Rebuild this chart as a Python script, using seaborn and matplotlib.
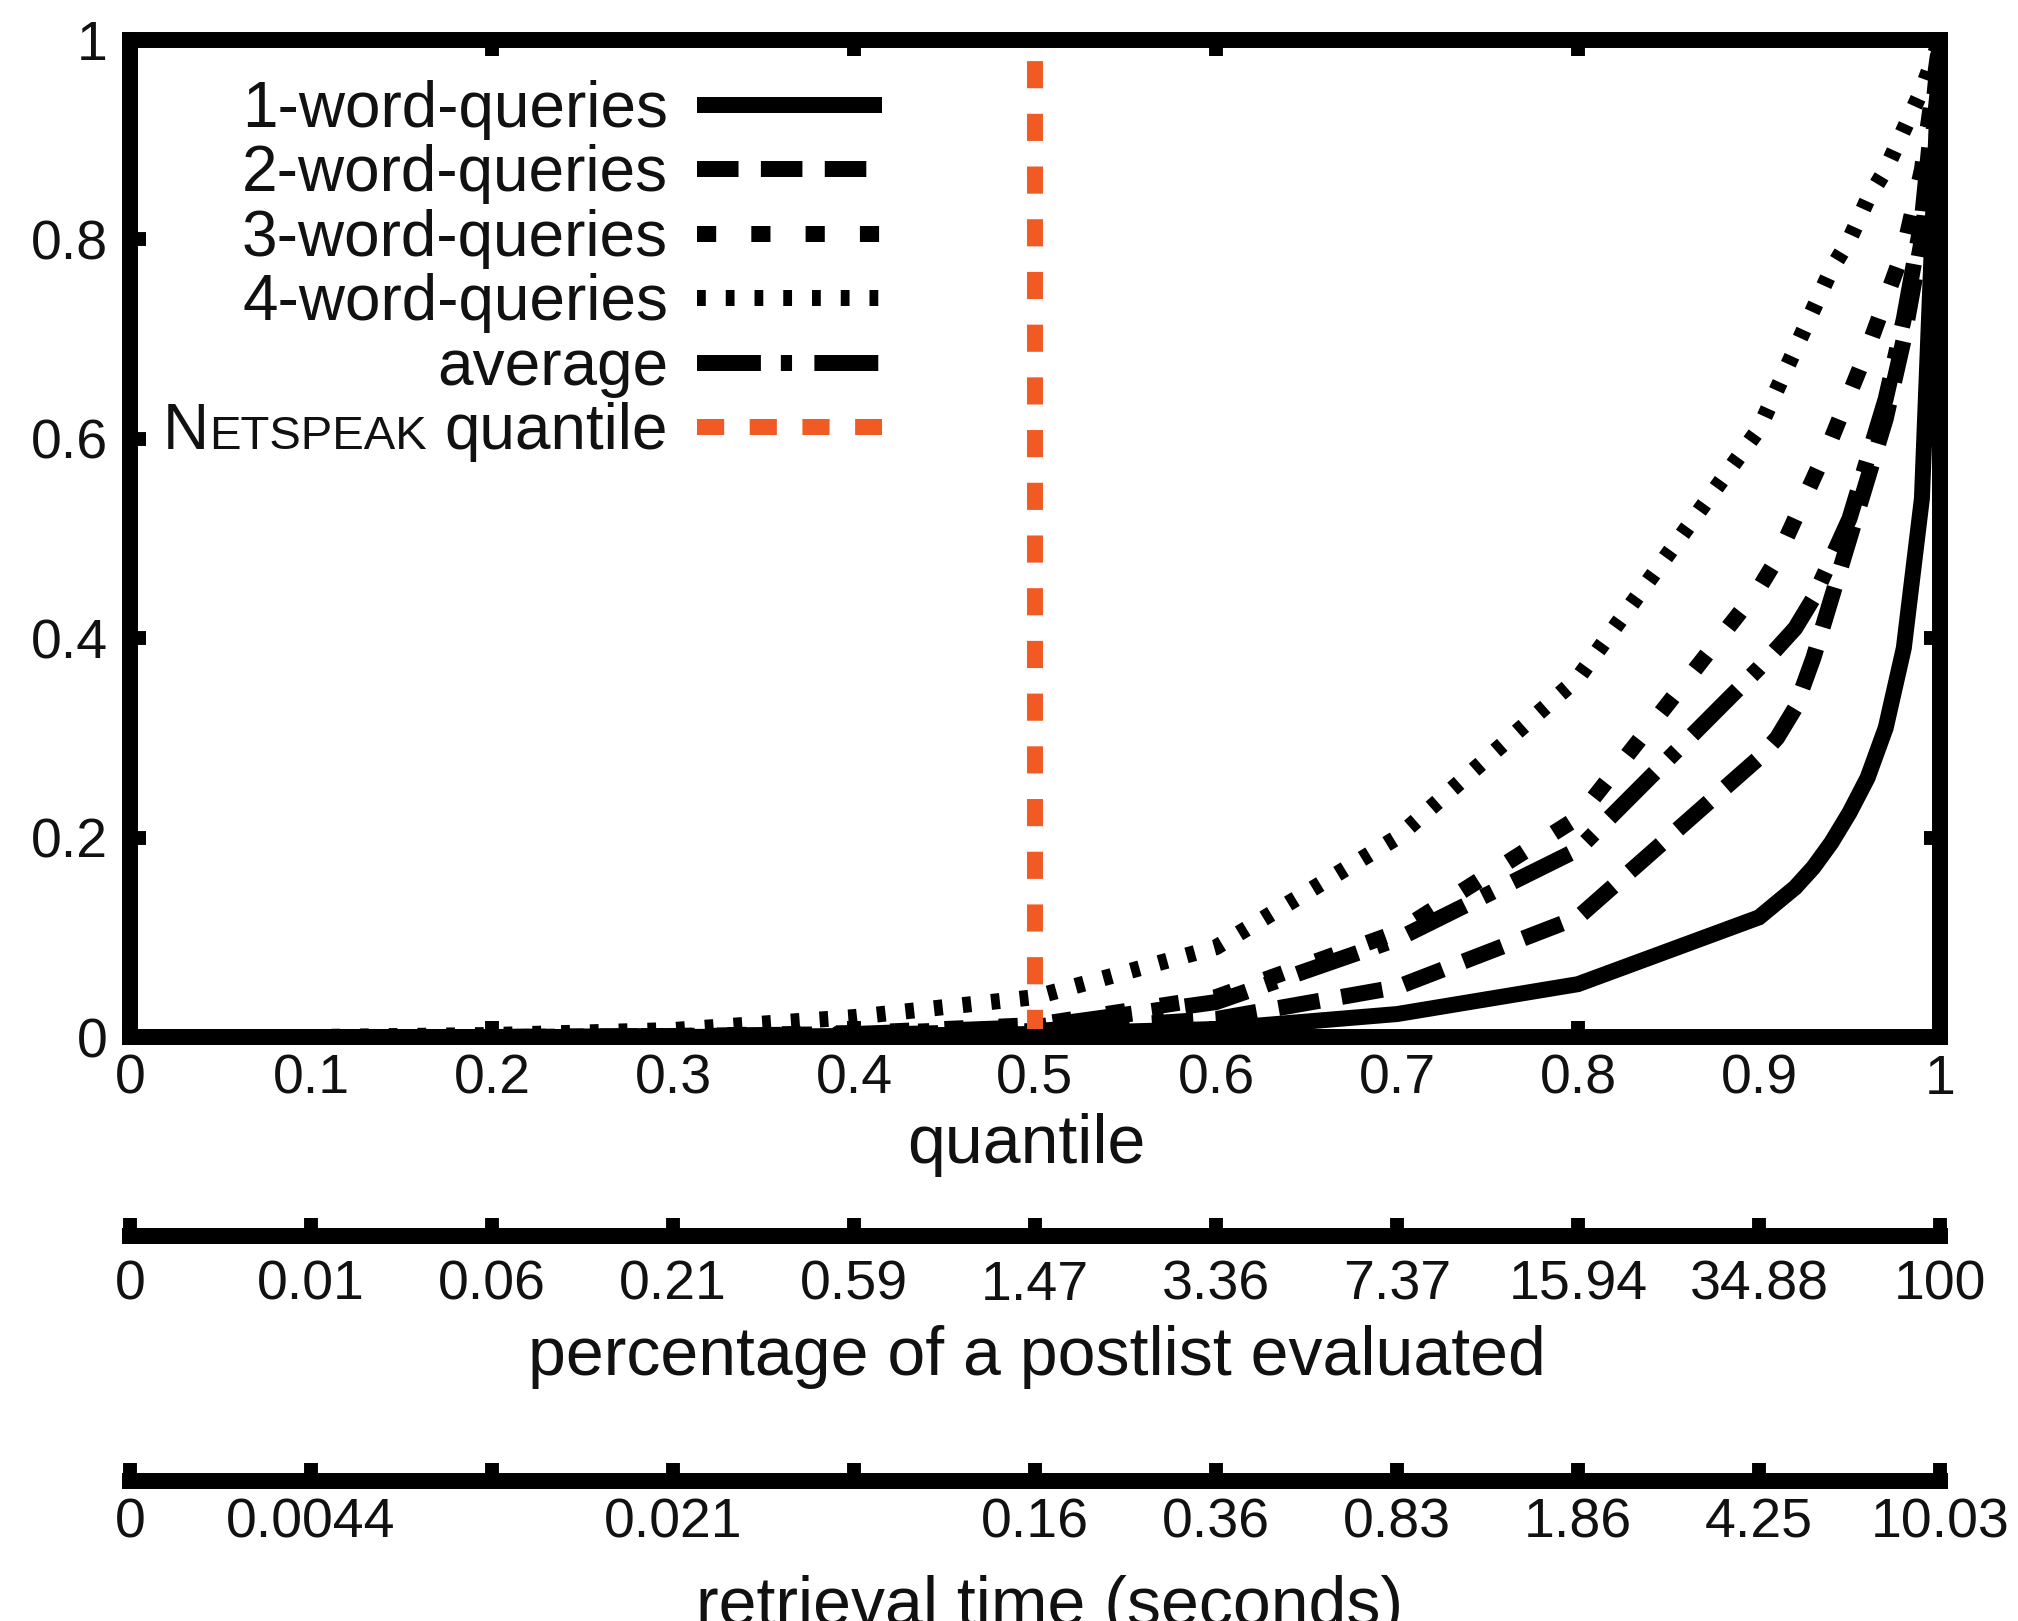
import numpy as np
import pandas as pd
import matplotlib.pyplot as plt
import seaborn as sns
from matplotlib.transforms import IdentityTransform

quantiles = [0, 0.1, 0.2, 0.3, 0.4, 0.5, 0.6, 0.7, 0.8, 0.9,
             0.91, 0.92, 0.93, 0.94, 0.95, 0.96, 0.97, 0.98, 0.99, 1.0]

one_word = [0, 0, 0, 0, 0.001, 0.003, 0.008, 0.023, 0.053, 0.12,
            0.135, 0.15, 0.17, 0.195, 0.225, 0.26, 0.31, 0.39, 0.54, 1.0]
two_word = [0, 0, 0, 0.001, 0.002, 0.006, 0.018, 0.05, 0.12, 0.28,
            0.30, 0.33, 0.38, 0.44, 0.50, 0.56, 0.62, 0.70, 0.80, 0.97]
three_word = [0, 0, 0, 0.001, 0.004, 0.012, 0.04, 0.105, 0.22, 0.45,
              0.48, 0.52, 0.56, 0.60, 0.645, 0.69, 0.74, 0.79, 0.87, 1.0]
four_word = [0, 0, 0.002, 0.007, 0.02, 0.04, 0.09, 0.2, 0.36, 0.61,
             0.65, 0.69, 0.73, 0.77, 0.80, 0.84, 0.87, 0.91, 0.95, 1.0]
average = [0, 0, 0, 0.001, 0.003, 0.01, 0.035, 0.098, 0.188, 0.37,
           0.39, 0.41, 0.44, 0.48, 0.52, 0.58, 0.64, 0.72, 0.82, 1.0]

series_names = ["1-word-queries", "2-word-queries", "3-word-queries",
                "4-word-queries", "average"]
netspeak_quantile = 0.5

quantile_ticks = [0, 0.1, 0.2, 0.3, 0.4, 0.5, 0.6, 0.7, 0.8, 0.9, 1.0]
quantile_labels = ["0", "0.1", "0.2", "0.3", "0.4", "0.5", "0.6", "0.7", "0.8", "0.9", "1"]
value_ticks = [0, 0.2, 0.4, 0.6, 0.8, 1.0]
value_labels = ["0", "0.2", "0.4", "0.6", "0.8", "1"]
percent_labels = ["0", "0.01", "0.06", "0.21", "0.59", "1.47", "3.36",
                  "7.37", "15.94", "34.88", "100"]
time_labels = ["0", "0.0044", "", "0.021", "", "0.16", "0.36", "0.83",
               "1.86", "4.25", "10.03"]

df = pd.DataFrame({
    "quantile": quantiles * 5,
    "value": one_word + two_word + three_word + four_word + average,
    "series": np.repeat(series_names, len(quantiles)),
})

sns.set_theme(style="white")
plt.rcParams["font.family"] = ["Liberation Sans", "DejaVu Sans"]

W, H = 2018, 1621
fig = plt.figure(figsize=(W / 100, H / 100), dpi=100)

def fx(px):
    return px / W

def fy(py):
    return 1 - py / H

lw = 11.5
orange = "#F15A24"
dash_map = {
    "1-word-queries": "",
    "2-word-queries": (2.6, 1.4),
    "3-word-queries": (1.2, 2.2),
    "4-word-queries": (0.55, 1.25),
    "average": (4.0, 1.25, 0.7, 1.4),
}

ax = fig.add_axes([fx(130), fy(1037), fx(1940) - fx(130), fy(40) - fy(1037)])
sns.lineplot(data=df, x="quantile", y="value", style="series",
             style_order=series_names, dashes=dash_map, color="black",
             linewidth=lw, estimator=None, sort=False, legend=False, ax=ax,
             solid_capstyle="butt", solid_joinstyle="miter")
ax.axvline(netspeak_quantile, color=orange, lw=lw, dashes=(1.7, 1.6), zorder=5)

ax.set_xlim(0, 1)
ax.set_ylim(0, 1)
ax.set_xlabel("")
ax.set_ylabel("")
for s in ax.spines.values():
    s.set_linewidth(lw)
    s.set_color("black")
    s.set_zorder(6)

major_x = [q for i, q in enumerate(quantile_ticks) if i % 2 == 0]
minor_x = [q for i, q in enumerate(quantile_ticks) if i % 2 == 1]
ax.set_xticks(major_x, [l for i, l in enumerate(quantile_labels) if i % 2 == 0])
ax.set_xticks(minor_x, [l for i, l in enumerate(quantile_labels) if i % 2 == 1], minor=True)
ax.set_yticks(value_ticks, value_labels)
ax.tick_params(axis="both", which="major", direction="in", length=11.5, width=10,
               color="black", labelsize=40, labelcolor="#111111",
               top=True, right=True, bottom=True, left=True)
ax.tick_params(axis="both", which="minor", length=0, labelsize=40, labelcolor="#111111")
ax.tick_params(axis="x", which="both", pad=12)
ax.tick_params(axis="y", which="both", pad=16)

fig.text(fx(1026), fy(1163), "quantile", ha="center", va="baseline", fontsize=49, color="#111111")

# extra scales below the plot
def extra_axis(y_px, labels, pad):
    a = fig.add_axes([fx(130), fy(y_px), fx(1940) - fx(130), 0.0001])
    a.set_facecolor("none")
    for side in ["top", "left", "right"]:
        a.spines[side].set_visible(False)
    a.spines["bottom"].set_linewidth(lw)
    a.spines["bottom"].set_color("black")
    a.set_xlim(0, 1)
    a.set_yticks([])
    a.set_xticks(quantile_ticks, labels)
    a.tick_params(axis="x", direction="in", length=13, width=10, color="black",
                  labelsize=40, labelcolor="#111111", pad=pad, bottom=True)
    return a

extra_axis(1236, percent_labels, 17)
fig.text(fx(1037), fy(1375), "percentage of a postlist evaluated",
         ha="center", va="baseline", fontsize=49, color="#111111")
extra_axis(1481, time_labels, 12)
fig.text(fx(1050), fy(1625), "retrieval time (seconds)",
         ha="center", va="baseline", fontsize=49, color="#111111")

# legend, handles on the right as in gnuplot
handles = list(ax.lines[:5]) + [ax.lines[5]]
leg = ax.legend(handles, series_names + ["quantile"], loc="upper right",
                bbox_to_anchor=(fx(882), fy(80)), bbox_transform=fig.transFigure,
                markerfirst=False, frameon=False, fontsize=46, handlelength=2.9,
                handletextpad=0.45, borderpad=0, borderaxespad=0, labelspacing=0.07)
for t in leg.get_texts():
    t.set_color("#111111")

fig.canvas.draw()
renderer = fig.canvas.get_renderer()
qt = leg.get_texts()[-1]
ext = qt.get_window_extent(renderer)
base_y = qt.get_transform().transform(qt.get_position())[1]
space = 0.278 * 46 * 100 / 72
t1 = fig.text(ext.x0 - space, base_y, "ETSPEAK", ha="right", va="baseline",
              fontsize=34, color="#111111", transform=IdentityTransform())
e1 = t1.get_window_extent(renderer)
fig.text(e1.x0, base_y, "N", ha="right", va="baseline", fontsize=46,
         color="#111111", transform=IdentityTransform())

fig.savefig("out.png", dpi=100)
